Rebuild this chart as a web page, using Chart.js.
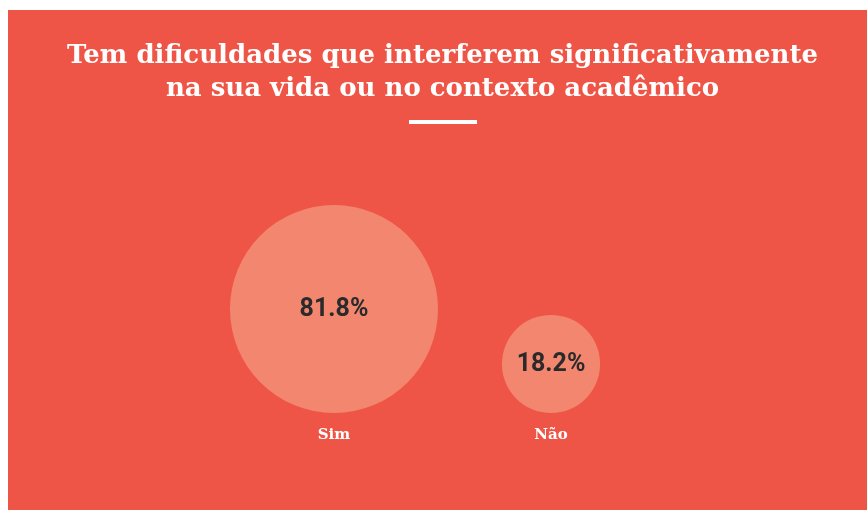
<!DOCTYPE html>
<html>
<head>
<meta charset="utf-8">
<script src="https://cdn.jsdelivr.net/npm/chart.js@4.4.1/dist/chart.umd.min.js"></script>
<style>
  html, body { margin: 0; padding: 0; background: #fff; }
  #box { position: absolute; left: 8px; top: 10px; width: 859px; height: 500px; background: #EF5546; }
</style>
</head>
<body>
<div id="box"><canvas id="bolhas"></canvas></div>
<script>
// dados
var titulo = ['Tem dificuldades que interferem significativamente', 'na sua vida ou no contexto acadêmico'];
var categorias = ['Sim', 'Não'];
var valores = [81.8, 18.2];

var corBolha = '#F3866F';
var fonteSerif = '"DejaVu Serif", serif';

// raio proporcional a area
function raio(v) { return Math.sqrt(v) * 11.5; }

var pontos = valores.map(function(v, i) {
  return { x: i + 1, y: raio(v), r: raio(v) };
});

var rotulos = {
  id: 'rotulos',
  afterDatasetsDraw: function(chart) {
    var ctx = chart.ctx;
    var meta = chart.getDatasetMeta(0);
    ctx.save();
    ctx.textAlign = 'center';
    ctx.textBaseline = 'middle';
    meta.data.forEach(function(el, i) {
      var r = pontos[i].r;
      ctx.fillStyle = '#2a2a2a';
      ctx.font = 'bold 25px Roboto';
      ctx.fillText(valores[i].toFixed(1) + '%', el.x, el.y + 1);
      ctx.fillStyle = '#fff';
      ctx.font = 'bold 15px ' + fonteSerif;
      ctx.fillText(categorias[i], el.x, el.y + r + 22);
    });
    // tracinho branco debaixo do titulo
    ctx.fillStyle = '#fff';
    ctx.fillRect(401, 110, 68, 4);
    ctx.restore();
  }
};

new Chart(document.getElementById('bolhas'), {
  type: 'bubble',
  data: {
    datasets: [{
      data: pontos,
      backgroundColor: corBolha,
      borderWidth: 0,
      hoverBackgroundColor: corBolha,
      hoverBorderWidth: 0,
      clip: false
    }]
  },
  options: {
    responsive: true,
    maintainAspectRatio: false,
    animation: false,
    layout: { autoPadding: false, padding: { left: 10, right: 0, top: 0, bottom: 97 } },
    scales: {
      x: { display: false, min: -0.456, max: 3.456 },
      y: { display: false, min: 0, max: 253 }
    },
    plugins: {
      legend: { display: false },
      tooltip: { enabled: false },
      title: {
        display: true,
        text: titulo,
        color: '#fff',
        font: { family: fonteSerif, size: 26, weight: 'bold', lineHeight: 1.27 },
        padding: { top: 30, bottom: 54 }
      }
    }
  },
  plugins: [rotulos]
});
</script>
</body>
</html>
